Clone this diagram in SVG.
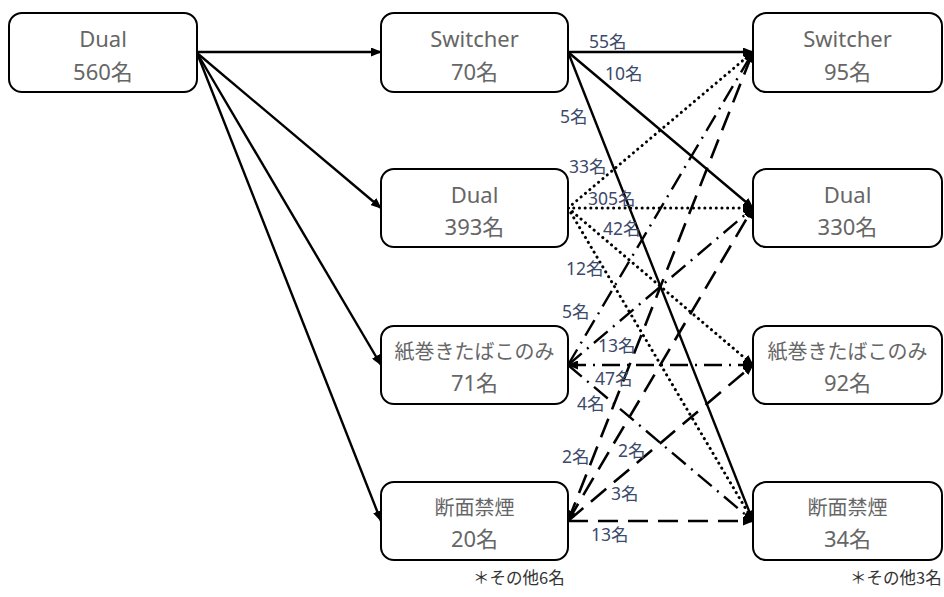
<svg xmlns="http://www.w3.org/2000/svg" width="944" height="597" viewBox="0 0 944 597">
<defs>
<marker id="ah" markerUnits="userSpaceOnUse" markerWidth="11" markerHeight="9" refX="10" refY="4.5" orient="auto-start-reverse">
<path d="M0,0 L11,4.5 L0,9 z" fill="#000"/>
</marker>
<style>
.box{fill:#fff;stroke:#000;stroke-width:2}
.t{font-family:"Noto Sans","Noto Sans CJK JP",sans-serif;fill:#666;text-anchor:middle;font-size:22px}
.tj{font-size:20px}
.lb{font-family:"Noto Sans","Noto Sans CJK JP",sans-serif;fill:#3b4a6b;font-size:17.5px}
.fn{font-family:"Noto Sans CJK JP",sans-serif;fill:#333;font-size:16.5px}
.c{fill:none;stroke:#000}
.solid{stroke-width:2.4}
.dot{stroke-width:3;stroke-dasharray:0.1 5.6;stroke-linecap:round}
.dd{stroke-width:2.4;stroke-dasharray:18 7 2 7}
.dash{stroke-width:2.6;stroke-dasharray:20 10}
</style>
</defs>
<rect width="944" height="597" fill="#fff"/>

<g id="connectors">
<line class="c solid" x1="197" y1="52" x2="381" y2="52" marker-end="url(#ah)"/>
<line class="c solid" x1="197" y1="53" x2="381" y2="208" marker-end="url(#ah)"/>
<line class="c solid" x1="197" y1="53" x2="381" y2="365" marker-end="url(#ah)"/>
<line class="c solid" x1="197" y1="53" x2="381" y2="521" marker-end="url(#ah)"/>
<line class="c solid" x1="568" y1="52" x2="753" y2="52" marker-end="url(#ah)"/>
<line class="c solid" x1="568" y1="52" x2="753" y2="208" marker-end="url(#ah)"/>
<line class="c solid" x1="568" y1="52" x2="753" y2="521" marker-end="url(#ah)"/>
<line class="c dot" x1="568" y1="208" x2="753" y2="52" marker-end="url(#ah)"/>
<line class="c dot" x1="568" y1="208" x2="753" y2="208" marker-end="url(#ah)"/>
<line class="c dot" x1="568" y1="208" x2="753" y2="365" marker-end="url(#ah)"/>
<line class="c dot" x1="568" y1="208" x2="753" y2="521" marker-end="url(#ah)"/>
<line class="c dd" x1="568" y1="365" x2="753" y2="52" marker-end="url(#ah)"/>
<line class="c dd" x1="568" y1="365" x2="753" y2="208" marker-end="url(#ah)"/>
<line class="c dd" x1="568" y1="365" x2="753" y2="365" marker-start="url(#ah)" marker-end="url(#ah)"/>
<line class="c dd" x1="568" y1="365" x2="753" y2="521" marker-end="url(#ah)"/>
<line class="c dash" x1="568" y1="521" x2="753" y2="52" marker-end="url(#ah)"/>
<line class="c dash" x1="568" y1="521" x2="753" y2="208" marker-start="url(#ah)" marker-end="url(#ah)"/>
<line class="c dash" x1="568" y1="521" x2="753" y2="365" marker-end="url(#ah)"/>
<line class="c dash" x1="568" y1="521" x2="753" y2="521" marker-end="url(#ah)"/>
</g>

<g id="edge-labels">
<text class="lb" x="589" y="48">55名</text>
<text class="lb" x="605" y="80">10名</text>
<text class="lb" x="560" y="123">5名</text>
<text class="lb" x="569" y="173">33名</text>
<text class="lb" x="588" y="205">305名</text>
<text class="lb" x="603" y="235">42名</text>
<text class="lb" x="566" y="275">12名</text>
<text class="lb" x="562" y="318">5名</text>
<text class="lb" x="598" y="352">13名</text>
<text class="lb" x="595" y="385">47名</text>
<text class="lb" x="577" y="410">4名</text>
<text class="lb" x="562" y="463">2名</text>
<text class="lb" x="618" y="457">2名</text>
<text class="lb" x="611" y="500">3名</text>
<text class="lb" x="591" y="541">13名</text>
</g>

<g id="n-left-dual">
<rect class="box" x="9" y="13" width="188" height="79" rx="13"/>
<text class="t" x="103" y="47">Dual</text>
<text class="t" x="103" y="80">560名</text>
</g>
<g id="n-mid-switcher">
<rect class="box" x="381" y="13" width="187" height="79" rx="13"/>
<text class="t" x="474.5" y="47">Switcher</text>
<text class="t" x="474.5" y="80">70名</text>
</g>
<g id="n-mid-dual">
<rect class="box" x="381" y="169" width="187" height="78" rx="13"/>
<text class="t" x="474.5" y="203">Dual</text>
<text class="t" x="474.5" y="235">393名</text>
</g>
<g id="n-mid-cig">
<rect class="box" x="381" y="326" width="187" height="78" rx="13"/>
<text class="t tj" x="474.5" y="359">紙巻きたばこのみ</text>
<text class="t" x="474.5" y="391">71名</text>
</g>
<g id="n-mid-quit">
<rect class="box" x="381" y="482" width="187" height="78" rx="13"/>
<text class="t tj" x="474.5" y="515">断面禁煙</text>
<text class="t" x="474.5" y="547">20名</text>
</g>
<g id="n-right-switcher">
<rect class="box" x="753" y="13" width="189" height="79" rx="13"/>
<text class="t" x="847.5" y="47">Switcher</text>
<text class="t" x="847.5" y="80">95名</text>
</g>
<g id="n-right-dual">
<rect class="box" x="753" y="169" width="189" height="78" rx="13"/>
<text class="t" x="847.5" y="203">Dual</text>
<text class="t" x="847.5" y="235">330名</text>
</g>
<g id="n-right-cig">
<rect class="box" x="753" y="326" width="189" height="78" rx="13"/>
<text class="t tj" x="847.5" y="359">紙巻きたばこのみ</text>
<text class="t" x="847.5" y="391">92名</text>
</g>
<g id="n-right-quit">
<rect class="box" x="753" y="482" width="189" height="78" rx="13"/>
<text class="t tj" x="847.5" y="515">断面禁煙</text>
<text class="t" x="847.5" y="547">34名</text>
</g>

<g id="notes">
<text class="fn" x="473" y="584">＊その他6名</text>
<text class="fn" x="850" y="584">＊その他3名</text>
</g>
</svg>
